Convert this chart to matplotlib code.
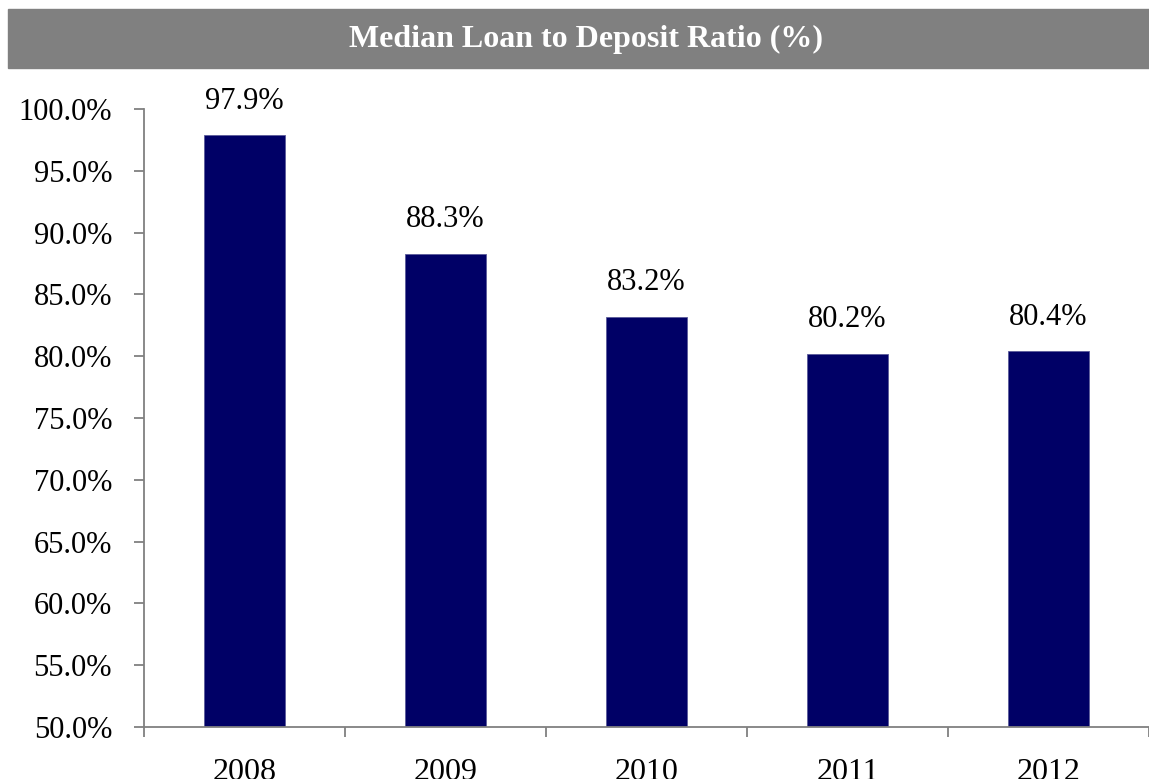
import numpy as np
import matplotlib.pyplot as plt
from matplotlib.ticker import FuncFormatter, FixedLocator

# Median loan to deposit ratio by year
years = ['2008', '2009', '2010', '2011', '2012']
ratios = [97.9, 88.3, 83.2, 80.2, 80.4]
yticks = np.arange(50, 100.1, 5)

plt.rcParams['font.family'] = ['Liberation Serif', 'DejaVu Serif']

fig = plt.figure(figsize=(11.49, 7.79), dpi=100)

# grey title band
fig.patches.append(plt.Rectangle((8 / 1149, 1 - 68 / 779), 1 - 8 / 1149, 59 / 779,
                                 transform=fig.transFigure, color='#808080', zorder=0))
fig.text(586 / 1149, 1 - 39 / 779, 'Median Loan to Deposit Ratio (%)', color='white',
         fontsize=23, fontweight='bold', ha='center', va='center')

ax = fig.add_axes([144 / 1149, 1 - 727 / 779, 1 - 144 / 1149, (727 - 109) / 779])
x = np.arange(len(years))
ax.bar(x, ratios, width=0.4, color='#000066', edgecolor='#5a5a9a', linewidth=0.6, zorder=2)

for xi, v in zip(x, ratios):
    ax.annotate(f'{v:.1f}%', (xi, v), xytext=(0, 14), textcoords='offset points',
                ha='center', va='bottom', fontsize=22)

ax.set_xlim(-0.5, 4.5)
ax.set_ylim(50, 100)
ax.set_yticks(yticks)
ax.yaxis.set_major_formatter(FuncFormatter(lambda v, p: f'{v:.1f}%'))
ax.tick_params(axis='y', labelsize=22, length=7, width=1.3, color='#808080', pad=16)

# category ticks sit between bars, labels centered under bars
ax.xaxis.set_major_locator(FixedLocator(np.arange(-0.5, 5, 1)))
ax.xaxis.set_major_formatter(FuncFormatter(lambda v, p: ''))
ax.xaxis.set_minor_locator(FixedLocator(x))
ax.set_xticklabels(years, minor=True)
ax.tick_params(axis='x', which='major', length=7, width=1.3, color='#808080')
ax.tick_params(axis='x', which='minor', length=0, labelsize=23, pad=22)

for side in ['top', 'right']:
    ax.spines[side].set_visible(False)
for side in ['left', 'bottom']:
    ax.spines[side].set_color('#808080')
    ax.spines[side].set_linewidth(1.3)
ax.spines['left'].set_zorder(3)

fig.savefig('out.png', dpi=100)
